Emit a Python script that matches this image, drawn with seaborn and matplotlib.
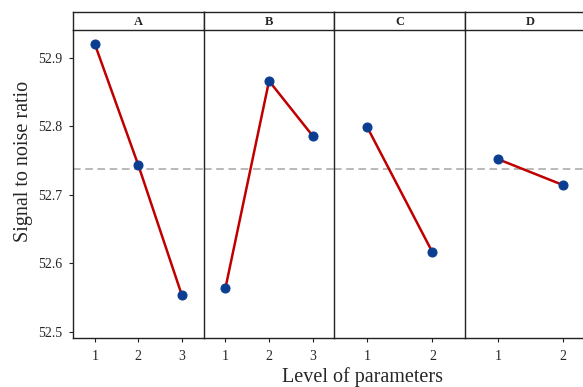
import matplotlib
matplotlib.use("Agg")
import matplotlib.pyplot as plt
import seaborn as sns
import pandas as pd

# ---- data ----
factors = ["A", "B", "C", "D"]
levels_A = [1, 2, 3]
levels_B = [1, 2, 3]
levels_C = [1, 2]
levels_D = [1, 2]
sn_A = [52.920, 52.743, 52.553]
sn_B = [52.564, 52.866, 52.786]
sn_C = [52.799, 52.616]
sn_D = [52.752, 52.714]
overall_mean = 52.738
y_ticks = [52.5, 52.6, 52.7, 52.8, 52.9]

levels = {"A": levels_A, "B": levels_B, "C": levels_C, "D": levels_D}
values = {"A": sn_A, "B": sn_B, "C": sn_C, "D": sn_D}
rows = []
for f in factors:
    for lv, v in zip(levels[f], values[f]):
        rows.append({"factor": f, "level": lv, "sn": v})
df = pd.DataFrame(rows)

sns.set_theme(style="white")
plt.rcParams["font.family"] = ["Liberation Serif", "DejaVu Serif"]

W, H = 583, 387
fig = plt.figure(figsize=(W / 100, H / 100), dpi=100)

line_color = "#C00000"
marker_color = "#0B3D91"
panel_left = 73
panel_w = 130.7
plot_top = 30
plot_bot = 338
strip_top = 12

def fx(px):
    return px / W

def fy(py):
    return 1 - py / H

ylim = (52.4908, 52.9404)
for i, f in enumerate(factors):
    x0 = panel_left + i * panel_w
    ax = fig.add_axes([fx(x0), fy(plot_bot), panel_w / W, (plot_bot - plot_top) / H])
    sub = df[df["factor"] == f]
    sns.lineplot(data=sub, x="level", y="sn", ax=ax, color=line_color, lw=1.8,
                 marker="o", markersize=6.5, markerfacecolor=marker_color,
                 markeredgecolor=marker_color, zorder=3)
    ax.axhline(overall_mean, color="#A6A6A6", lw=1.1, ls=(0, (5, 3)), zorder=1)
    n = len(levels[f])
    ax.set_xlim(0.5, n + 0.5)
    ax.set_ylim(*ylim)
    ax.set_xticks(levels[f])
    ax.set_xticklabels([str(l) for l in levels[f]], fontsize=10)
    ax.set_xlabel("")
    ax.set_ylabel("")
    for s in ax.spines.values():
        s.set_color("#222222")
        s.set_linewidth(1.0)
    ax.spines["top"].set_visible(False)
    ax.spines["right"].set_visible(i == len(factors) - 1)
    ax.tick_params(axis="x", bottom=True, direction="out", length=3, width=0.8,
                   color="#222222", pad=6)
    if i == 0:
        ax.set_yticks(y_ticks)
        ax.set_yticklabels([f"{t:.1f}" for t in y_ticks], fontsize=10)
        ax.tick_params(axis="y", left=True, direction="out", length=3, width=0.8,
                       color="#222222", pad=5)
    else:
        ax.set_yticks([])
    ax.grid(False)

    # strip
    sax = fig.add_axes([fx(x0), fy(plot_top), panel_w / W, (plot_top - strip_top) / H])
    sax.set_xticks([])
    sax.set_yticks([])
    sax.set_facecolor("white")
    for s in sax.spines.values():
        s.set_color("#222222")
        s.set_linewidth(1.0)
    sax.text(0.5, 0.45, f, ha="center", va="center", fontsize=9,
             fontweight="bold", transform=sax.transAxes)

fig.text(fx(24), fy(161), "Signal to noise ratio", rotation=90, ha="center",
         va="center", fontsize=14.5)
fig.text(fx(362), fy(382), "Level of parameters", ha="center", va="baseline",
         fontsize=14.5)

fig.savefig("out.png", dpi=100)
